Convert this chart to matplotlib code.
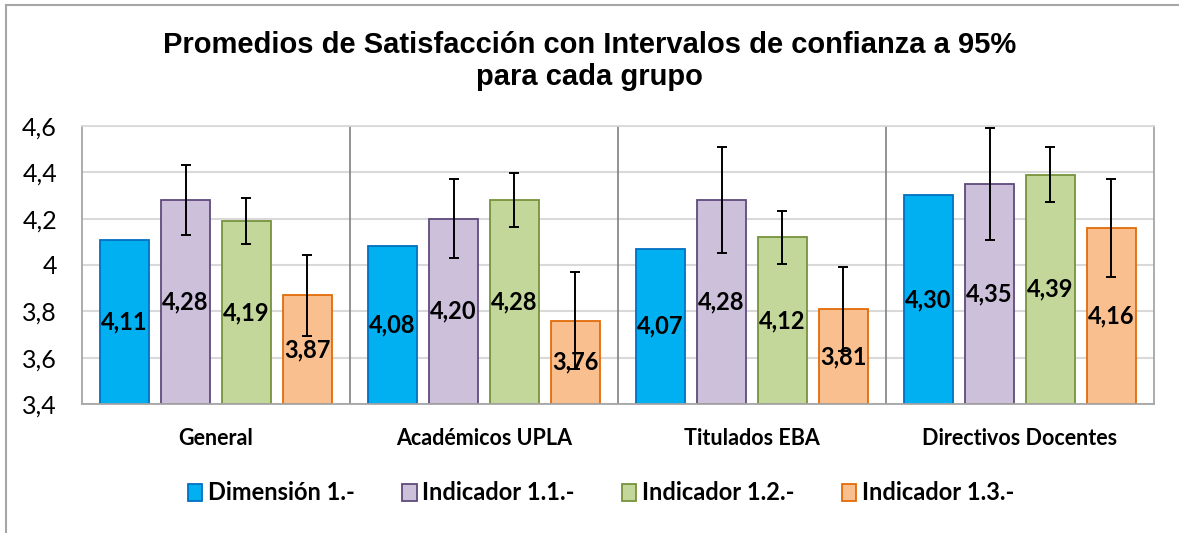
import numpy as np
import matplotlib.pyplot as plt
from matplotlib.lines import Line2D
from matplotlib.patches import Patch

# data
groups = ["General", "Académicos UPLA", "Titulados EBA", "Directivos Docentes"]
series = ["Dimensión 1.-", "Indicador 1.1.-", "Indicador 1.2.-", "Indicador 1.3.-"]
dimension = [4.11, 4.08, 4.07, 4.30]
ind_11 = [4.28, 4.20, 4.28, 4.35]
ind_12 = [4.19, 4.28, 4.12, 4.39]
ind_13 = [3.87, 3.76, 3.81, 4.16]
# half widths of the 95% intervals (none drawn for Dimensión)
err_11 = [0.15, 0.17, 0.23, 0.24]
err_12 = [0.10, 0.115, 0.115, 0.12]
err_13 = [0.175, 0.21, 0.18, 0.21]
yticks = [3.4, 3.6, 3.8, 4.0, 4.2, 4.4, 4.6]
ytick_labels = ["3,4", "3,6", "3,8", "4", "4,2", "4,4", "4,6"]

values = [dimension, ind_11, ind_12, ind_13]
errors = [None, err_11, err_12, err_13]
faces = ["#00B0F0", "#CCC0DA", "#C4D79B", "#FABF8F"]
edges = ["#0070C0", "#604A7B", "#76933C", "#E26B0A"]

lab_font = "Lato"

fig = plt.figure(figsize=(11.79, 5.33), dpi=100)
ax = fig.add_axes([82 / 1179, 1 - 404 / 533, (1154 - 82) / 1179, (404 - 126) / 533])

x = np.arange(len(groups))
width = 0.183
step = 0.2276
ymin = 3.4

for k in range(4):
    pos = x + (k - 1.5) * step
    vals = np.array(values[k])
    ax.bar(pos, vals - ymin, width, bottom=ymin, color=faces[k],
           edgecolor=edges[k], linewidth=1.3, zorder=2)
    if errors[k] is not None:
        ax.errorbar(pos, vals, yerr=errors[k], fmt="none", ecolor="black",
                    elinewidth=1.4, capsize=3.8, capthick=1.4, zorder=4)
    for p, v in zip(pos, vals):
        ax.text(p, (ymin + v) / 2, f"{v:.2f}".replace(".", ","), ha="center",
                va="center", fontsize=17, fontweight="bold", family=lab_font,
                zorder=3)

ax.set_xlim(-0.5, len(groups) - 0.5)
ax.set_ylim(3.4, 4.6)
ax.set_yticks(yticks)
ax.set_yticklabels(ytick_labels, fontsize=18, family=lab_font)
ax.set_xticks(x)
ax.set_xticklabels(groups, fontsize=15.5, fontweight="bold", family=lab_font)
ax.tick_params(axis="both", length=0)
ax.tick_params(axis="x", pad=17)
ax.tick_params(axis="y", pad=18)
ax.grid(axis="y", color="#D9D9D9", linewidth=1.5, zorder=0)
ax.set_axisbelow(True)
for xs in x[1:] - 0.5:
    ax.axvline(xs, color="#808080", linewidth=1.2, zorder=1)
for s in ax.spines.values():
    s.set_color("#A6A6A6")
    s.set_linewidth(1.3)
ax.spines["top"].set_color("#D9D9D9")

fig.text(0.5, 1 - 45 / 533, "Promedios de Satisfacción con Intervalos de confianza a 95%",
         ha="center", va="center", fontsize=21, fontweight="bold",
         family="Liberation Sans")
fig.text(0.5, 1 - 77 / 533, "para cada grupo", ha="center", va="center",
         fontsize=21, fontweight="bold", family="Liberation Sans")

handles = [Patch(facecolor=faces[k], edgecolor=edges[k], linewidth=1.3)
           for k in range(4)]
fig.legend(handles, series, loc="center", bbox_to_anchor=(0.51, 1 - 493 / 533),
           ncol=4, frameon=False, handlelength=0.6, handleheight=0.75,
           handletextpad=0.25, columnspacing=2.0,
           prop={"family": lab_font, "weight": "bold", "size": 17})

# outer chart frame (only left and top edges visible)
fig.add_artist(Line2D([6 / 1179, 6 / 1179], [0, 1 - 5 / 533], color="#A6A6A6",
                      linewidth=1.5, transform=fig.transFigure))
fig.add_artist(Line2D([6 / 1179, 1], [1 - 5 / 533, 1 - 5 / 533], color="#A6A6A6",
                      linewidth=1.5, transform=fig.transFigure))

fig.savefig("out.png", dpi=100)
